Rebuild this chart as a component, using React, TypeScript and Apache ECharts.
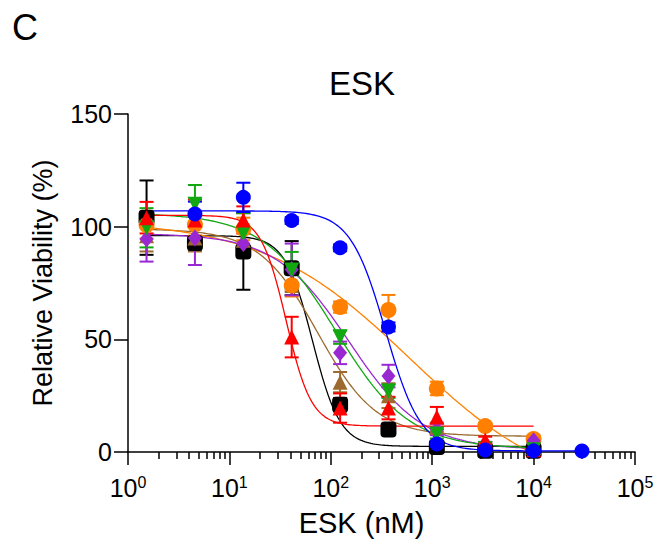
import React, { useEffect, useRef } from "react";
import * as echarts from "echarts";

// ---- data ----
const concentrations = [1.524, 4.572, 13.72, 41.15, 123.5, 370.4, 1111, 3333, 10000];
const blueConcentrations = [4.572, 13.72, 41.15, 123.5, 370.4, 1111, 3333, 10000, 30000];
const xTickExponents = ["0", "1", "2", "3", "4", "5"];
const yTicks = [0, 50, 100, 150];

const blackMean = [104, 92.7, 89, 81.6, 21, 10, 2.2, 0.5, 0.5];
const blackSd = [16.5, 3, 17, 12, 3, 2, 1.5, 0.5, 0.5];
const blackFit = [96, 2.5, 1.82, 3.2]; // top, bottom, logIC50, hill

const brownMean = [96, 95, 94, 75, 31, 25, 11, 3, 2];
const brownSd = [7, 6, 5, 4, 4.5, 5.5, 2, 1, 1];
const brownFit = [99, 7, 1.87, 1.5];

const orangeMean = [100.7, 101, 99, 74, 64.3, 63, 28.2, 11.5, 5.8];
const orangeSd = [6, 5, 5, 5, 2.5, 6.7, 3, 1.5, 1.5];
const orangeFit = [103, -20, 2.78, 0.6];

const purpleMean = [94.5, 95, 92.5, 81, 44, 33.7, 10, 3.5, 5];
const purpleSd = [10, 12, 6, 11.5, 5, 5, 2.5, 1, 1];
const purpleFit = [97, 1, 2.18, 1.2];

const greenMean = [99.5, 110, 97, 80.8, 51, 27, 8, 1.5, 1];
const greenSd = [8.7, 8.5, 9, 8, 3, 3, 2, 1, 1];
const greenFit = [106, 1.5, 2.05, 1.2];

const redMean = [104, 103, 103, 51, 19.5, 19.5, 15.5, 5.3, 1];
const redSd = [7, 9, 6, 9, 6.5, 5, 4.5, 1.5, 1];
const redFit = [105, 11.5, 1.56, 3.5];

const blueMean = [105.6, 113, 102.7, 90.6, 55.5, 3.5, 0.9, 0.5, 0.4];
const blueSd = [5.5, 6.5, 1.5, 1.5, 2, 1, 0.5, 0.5, 0.5];
const blueFit = [107, 0.5, 2.54, 2.5];

const FONT = "'Liberation Sans', Arial, Helvetica, sans-serif";

type Group = {
  name: string;
  xs: number[];
  mean: number[];
  sd: number[];
  fit: number[];
  color: string;
  symbol: string;
  size: number | number[];
  rotate?: number;
};

const groups: Group[] = [
  { name: "black", xs: concentrations, mean: blackMean, sd: blackSd, fit: blackFit, color: "#000000", symbol: "roundRect", size: 16 },
  { name: "brown", xs: concentrations, mean: brownMean, sd: brownSd, fit: brownFit, color: "#9C6A2E", symbol: "triangle", size: 15 },
  { name: "orange", xs: concentrations, mean: orangeMean, sd: orangeSd, fit: orangeFit, color: "#FF8000", symbol: "circle", size: 16 },
  { name: "purple", xs: concentrations, mean: purpleMean, sd: purpleSd, fit: purpleFit, color: "#9A28D2", symbol: "diamond", size: [14, 17] },
  { name: "green", xs: concentrations, mean: greenMean, sd: greenSd, fit: greenFit, color: "#12A812", symbol: "triangle", size: 15, rotate: 180 },
  { name: "red", xs: concentrations, mean: redMean, sd: redSd, fit: redFit, color: "#FF0000", symbol: "triangle", size: 15 },
  { name: "blue", xs: blueConcentrations, mean: blueMean, sd: blueSd, fit: blueFit, color: "#0000FF", symbol: "circle", size: 15 },
];

function fitCurve(fit: number[], xMin: number, xMax: number) {
  const [top, bottom, logIc50, hill] = fit;
  const a = Math.log10(xMin);
  const b = Math.log10(xMax);
  const n = 200;
  const pts: number[][] = [];
  for (let i = 0; i <= n; i++) {
    const lx = a + ((b - a) * i) / n;
    const y = bottom + (top - bottom) / (1 + Math.pow(10, (lx - logIc50) * hill));
    pts.push([Math.pow(10, lx), y]);
  }
  return pts;
}

function buildOption() {
  const series: any[] = [];
  groups.forEach((g) => {
    series.push({
      type: "line",
      name: g.name + "-fit",
      data: fitCurve(g.fit, concentrations[0], g.xs[g.xs.length - 1]),
      showSymbol: false,
      symbol: "none",
      smooth: false,
      lineStyle: { color: g.color, width: 1.3 },
      z: 2,
      silent: true,
    });
  });
  groups.forEach((g) => {
    series.push({
      type: "custom",
      name: g.name + "-err",
      data: g.xs.map((x, i) => [x, g.mean[i], g.sd[i]]),
      encode: { x: 0, y: 1 },
      z: 3,
      renderItem: (params: any, api: any) => {
        const x = api.value(0);
        const m = api.value(1);
        const s = api.value(2);
        const p1 = api.coord([x, m + s]);
        const p2 = api.coord([x, Math.max(0, m - s)]);
        const hw = 7;
        const style = { stroke: g.color, lineWidth: 2 };
        return {
          type: "group",
          children: [
            { type: "line", shape: { x1: p1[0], y1: p1[1], x2: p2[0], y2: p2[1] }, style },
            { type: "line", shape: { x1: p1[0] - hw, y1: p1[1], x2: p1[0] + hw, y2: p1[1] }, style },
            { type: "line", shape: { x1: p2[0] - hw, y1: p2[1], x2: p2[0] + hw, y2: p2[1] }, style },
          ],
        };
      },
    });
  });
  groups.forEach((g) => {
    series.push({
      type: "scatter",
      name: g.name,
      data: g.xs.map((x, i) => [x, g.mean[i]]),
      symbol: g.symbol,
      symbolSize: g.size,
      symbolRotate: g.rotate || 0,
      itemStyle: { color: g.color, opacity: 1 },
      z: 4,
    });
  });

  return {
    animation: false,
    backgroundColor: "#ffffff",
    textStyle: { fontFamily: FONT },
    title: {
      text: "ESK",
      left: 362,
      textAlign: "center",
      top: 67,
      padding: 0,
      textStyle: { fontFamily: FONT, fontSize: 33, fontWeight: "normal", color: "#000" },
    },
    graphic: [
      {
        type: "text",
        left: 12,
        top: 9,
        style: { text: "C", fontFamily: FONT, fontSize: 36, fill: "#000" },
      },
    ],
    grid: { left: 128, right: 26, top: 114, bottom: 99, containLabel: false, outerBoundsMode: "none" },
    xAxis: {
      type: "log",
      logBase: 10,
      min: 1,
      max: 100000,
      name: "ESK (nM)",
      nameLocation: "middle",
      nameGap: 56,
      nameTextStyle: { fontFamily: FONT, fontSize: 29, color: "#000", padding: [0, 40, 0, 0] },
      splitLine: { show: false },
      axisLine: { show: true, onZero: false, lineStyle: { color: "#000", width: 1.5 } },
      axisTick: { show: true, inside: false, length: 13, lineStyle: { color: "#000", width: 1.5 } },
      minorTick: { show: true, splitNumber: 9, length: 7, lineStyle: { color: "#000", width: 1.5 } },
      minorSplitLine: { show: false },
      axisLabel: {
        margin: 22,
        color: "#000",
        formatter: (v: number) => {
          const e = Math.round(Math.log10(v));
          return "{b|10}{s|" + xTickExponents[e] + "}";
        },
        rich: {
          b: { fontFamily: FONT, fontSize: 25, color: "#000", lineHeight: 28 },
          s: { fontFamily: FONT, fontSize: 16, color: "#000", verticalAlign: "top", lineHeight: 18 },
        },
      },
    },
    yAxis: {
      type: "value",
      min: yTicks[0],
      max: yTicks[yTicks.length - 1],
      interval: 50,
      name: "Relative Viability (%)",
      nameLocation: "middle",
      nameGap: 72,
      nameTextStyle: { fontFamily: FONT, fontSize: 27, color: "#000" },
      splitLine: { show: false },
      axisLine: { show: true, onZero: false, lineStyle: { color: "#000", width: 1.5 } },
      axisTick: { show: true, inside: false, length: 14, lineStyle: { color: "#000", width: 1.5 } },
      axisLabel: { margin: 16, fontFamily: FONT, fontSize: 25, color: "#000" },
    },
    series,
  };
}

export default function App() {
  const ref = useRef<HTMLDivElement>(null);
  useEffect(() => {
    if (!ref.current) return;
    const chart = echarts.init(ref.current, undefined, { renderer: "svg" });
    chart.setOption(buildOption() as any);
    return () => chart.dispose();
  }, []);
  return (
    <div
      ref={ref}
      style={{ position: "fixed", left: 0, top: 0, width: 661, height: 551, background: "#fff" }}
    />
  );
}
